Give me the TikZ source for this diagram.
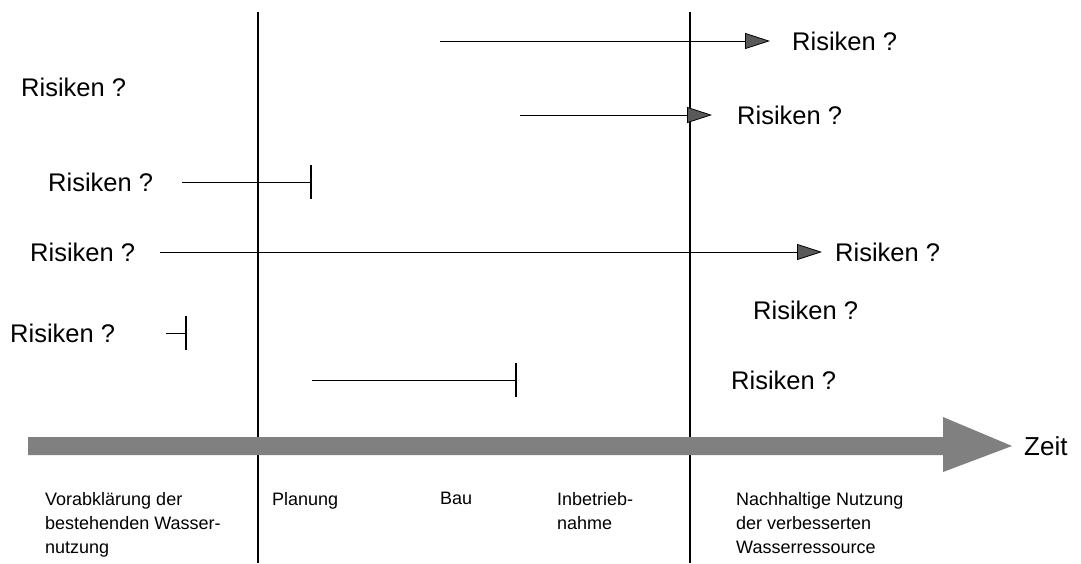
\documentclass[tikz,border=0pt]{standalone}
\usepackage{fontspec}
\setmainfont{Liberation Sans}
\usetikzlibrary{arrows.meta}
\begin{document}
\begin{tikzpicture}[x=1pt,y=-1pt,
  risk/.style={anchor=west,inner sep=0pt,font=\fontsize{25.5}{30}\selectfont},
  phase/.style={anchor=north west,inner sep=0pt,align=left,font=\fontsize{18}{24}\selectfont},
  divider/.style={line width=2.2pt},
  riskarrow/.style={line width=1pt,-{Triangle[length=25pt,width=16pt,fill=black!65,line width=0.8pt]}},
  riskbar/.style={line width=1pt,-{Bar[width=34pt,line width=2.2pt]}},
  timeband/.style={fill=black!50,draw=none}
]
\useasboundingbox (0,0) rectangle (1081,563);

% phase dividers
\draw[divider] (258,12) -- (258,563);
\draw[divider] (690,12) -- (690,563);

% time axis
\fill[timeband] (28,437) -- (943,437) -- (943,417) -- (1012,446) -- (943,472)
  -- (943,455) -- (28,455) -- cycle;
\node[risk,font=\fontsize{26}{30}\selectfont] (zeit) at (1024,446) {Zeit};

% risk labels
\node[risk] (r1) at (792,41) {Risiken ?};
\node[risk] (r2) at (737,115) {Risiken ?};
\node[risk] (r0) at (21,87) {Risiken ?};
\node[risk] (r3) at (48,182) {Risiken ?};
\node[risk] (r4l) at (30,252) {Risiken ?};
\node[risk] (r4r) at (835,252) {Risiken ?};
\node[risk] (r5) at (10,333) {Risiken ?};
\node[risk] (r6) at (753,310) {Risiken ?};
\node[risk] (r7) at (731,380) {Risiken ?};

% risk spans
\coordinate (s1) at (440,41);
\coordinate (s2) at (520,115);
\coordinate (s3) at (182,182);
\coordinate (e3) at (312,182);
\coordinate (s4) at (160,252);
\coordinate (s5) at (166,333);
\coordinate (e5) at (187,333);
\coordinate (s6) at (312,380);
\coordinate (e6) at (517,380);
\coordinate (t1) at (770,41);
\coordinate (t2) at (712,115);
\coordinate (t4) at (822,252);

\draw[riskarrow] (s1) -- (t1);
\draw[riskarrow] (s2) -- (t2);
\draw[riskbar] (s3) -- (e3);
\draw[riskarrow] (s4) -- (t4);
\draw[riskbar] (s5) -- (e5);
\draw[riskbar] (s6) -- (e6);

% phase names
\node[phase] (p1) at (45,492) {Vorabklärung der\\bestehenden Wasser-\\nutzung};
\node[phase] (p2) at (272,492) {Planung};
\node[phase] (p3) at (440,492) {Bau};
\node[phase] (p4) at (557,492) {Inbetrieb-\\nahme};
\node[phase] (p5) at (736,492) {Nachhaltige Nutzung\\der verbesserten\\Wasserressource};
\end{tikzpicture}
\end{document}
